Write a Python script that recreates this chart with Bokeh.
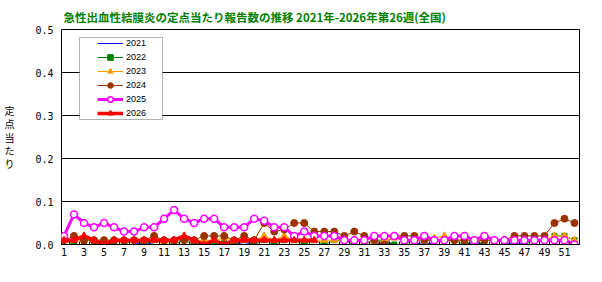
from bokeh.plotting import figure
from bokeh.models import (Range1d, FixedTicker, NumeralTickFormatter, Legend,
                          LegendItem, Title, BoxAnnotation)
from bokeh.embed import file_html
from bokeh.resources import INLINE

# ---------------- data ----------------
weeks = list(range(1, 53))
weeks_2026 = list(range(1, 27))

v2021 = [0, 0, 0, 0, 0, 0, 0, 0, 0.005, 0, 0, 0, 0, 0, 0, 0, 0, 0, 0.005, 0,
         0, 0, 0, 0, 0, 0, 0, 0, 0, 0, 0, 0, 0.005, 0, 0, 0, 0.005, 0, 0, 0,
         0, 0.005, 0, 0, 0, 0.005, 0, 0, 0, 0, 0, 0]
v2022 = [0.01, 0, 0, 0, 0.01, 0, 0, 0.01, 0, 0.01, 0.01, 0, 0.01, 0, 0.01, 0,
         0.01, 0, 0.01, 0, 0.01, 0, 0.01, 0.01, 0, 0.01, 0, 0.01, 0.01, 0,
         0, 0.01, 0.01, 0, 0, 0.01, 0.01, 0.01, 0.01, 0.01, 0, 0.01, 0, 0,
         0, 0, 0, 0.01, 0.01, 0.02, 0.02, 0.01]
v2023 = [0.01, 0.01, 0.01, 0.01, 0.01, 0.01, 0.01, 0.01, 0.01, 0.01, 0, 0.01,
         0.015, 0.01, 0.01, 0.01, 0.015, 0.01, 0.01, 0.01, 0.02, 0.01, 0.02,
         0.01, 0.01, 0.01, 0.01, 0.01, 0.01, 0.01, 0.01, 0, 0.01, 0.015,
         0.01, 0.01, 0.01, 0.015, 0.02, 0.01, 0.01, 0.01, 0.01, 0.01, 0.01,
         0.01, 0.01, 0.01, 0.01, 0.02, 0.02, 0.01]
v2024 = [0.01, 0.02, 0.01, 0.01, 0.01, 0.01, 0.01, 0.01, 0.01, 0.02, 0.01,
         0.01, 0.01, 0.01, 0.02, 0.02, 0.02, 0.01, 0.02, 0.01, 0.05, 0.03,
         0.035, 0.05, 0.05, 0.03, 0.03, 0.03, 0.02, 0.03, 0.02, 0.01, 0,
         0.02, 0.02, 0.02, 0.01, 0.01, 0.01, 0.01, 0.01, 0.01, 0.01, 0.01,
         0.01, 0.02, 0.02, 0.02, 0.02, 0.05, 0.06, 0.05]
v2025 = [0.02, 0.07, 0.05, 0.04, 0.05, 0.04, 0.03, 0.03, 0.04, 0.04, 0.06,
         0.08, 0.06, 0.05, 0.06, 0.06, 0.04, 0.04, 0.04, 0.06, 0.055, 0.04,
         0.04, 0.02, 0.03, 0.02, 0.02, 0.02, 0.01, 0.01, 0.01, 0.02, 0.02,
         0.02, 0.01, 0.01, 0.02, 0.01, 0.01, 0.02, 0.02, 0.01, 0.02, 0.01,
         0.01, 0.01, 0.01, 0.01, 0.01, 0.01, 0.01, 0]
v2026 = [0.01, 0.01, 0.02, 0.01, 0, 0.01, 0.01, 0.01, 0.01, 0.01, 0.01, 0.01,
         0.02, 0.01, 0, 0.01, 0, 0.01, 0.01, 0.01, 0.01, 0.01, 0.01, 0.01,
         0.01, 0.01]

series_names = ["2021", "2022", "2023", "2024", "2025", "2026"]
title_text = "急性出血性結膜炎の定点当たり報告数の推移 2021年-2026年第26週(全国)"
ylabel_text = "定\n点\n当\nた\nり"
x_tick_values = list(range(1, 53, 2))
y_tick_values = [0, 0.1, 0.2, 0.3, 0.4, 0.5]

# ---------------- figure ----------------
p = figure(width=602, height=282, title=None,
           x_range=Range1d(0.75, 52.5), y_range=Range1d(0, 0.5),
           output_backend="svg", toolbar_location=None,
           min_border_left=61, min_border_right=23,
           min_border_top=29, min_border_bottom=38)
p.background_fill_color = "white"
p.border_fill_color = "white"
p.outline_line_color = "black"
p.outline_line_width = 1

p.xgrid.visible = False
p.ygrid.ticker = FixedTicker(ticks=y_tick_values)
p.ygrid.grid_line_color = "black"
p.ygrid.grid_line_width = 1

xa = p.xaxis[0]
xa.ticker = FixedTicker(ticks=x_tick_values,
                        minor_ticks=[w + 0.5 for w in weeks[:-1]])
xa.major_tick_line_color = None
xa.major_tick_in = 0
xa.major_tick_out = 0
xa.minor_tick_in = 3
xa.minor_tick_out = 0
xa.minor_tick_line_color = "black"
xa.axis_line_color = "black"
xa.major_label_standoff = 3
xa.major_label_text_font = "DejaVu Sans Mono"
xa.major_label_text_font_size = "10px"
xa.major_label_text_color = "black"

ya = p.yaxis[0]
ya.ticker = FixedTicker(ticks=y_tick_values)
ya.formatter = NumeralTickFormatter(format="0.0")
ya.major_tick_line_color = None
ya.major_tick_in = 0
ya.major_tick_out = 0
ya.minor_tick_line_color = None
ya.minor_tick_in = 0
ya.minor_tick_out = 0
ya.axis_line_color = None
ya.major_label_standoff = 8
ya.major_label_text_font = "DejaVu Sans Mono"
ya.major_label_text_font_size = "10px"
ya.major_label_text_color = "black"
ya.axis_label = ylabel_text
ya.axis_label_orientation = "horizontal"
ya.axis_label_standoff = 18
ya.axis_label_text_font = "Noto Sans CJK JP"
ya.axis_label_text_font_size = "10px"
ya.axis_label_text_font_style = "normal"
ya.axis_label_text_color = "black"
ya.axis_label_text_line_height = 0.875

# ---------------- series ----------------
r21 = p.line(weeks, v2021, line_color="#0000ff", line_width=1)

r22l = p.line(weeks, v2022, line_color="#008000", line_width=1)
r22m = p.scatter(weeks, v2022, marker="square", size=5,
                 fill_color="#008000", line_color="#008000")

r23l = p.line(weeks, v2023, line_color="#ff9900", line_width=1)
r23m = p.scatter(weeks, v2023, marker="triangle", size=7,
                 fill_color="#ff9900", line_color="#ff9900")

r24l = p.line(weeks, v2024, line_color="#993300", line_width=1)
r24m = p.scatter(weeks, v2024, marker="circle", size=7,
                 fill_color="#993300", line_color="#993300")

r25l = p.line(weeks, v2025, line_color="#ff00ff", line_width=3)
r25m = p.scatter(weeks, v2025, marker="circle", size=7,
                 fill_color="white", line_color="#ff00ff", line_width=1.5)

r26l = p.line(weeks_2026, v2026, line_color="#ff0000", line_width=3.5)
r26m = p.scatter(weeks_2026, v2026, marker="triangle", size=7,
                 fill_color="#ff0000", line_color="#ff0000")

# ---------------- legend ----------------
box = BoxAnnotation(left=79, right=162, top=37, bottom=119,
                    left_units="canvas", right_units="canvas",
                    top_units="canvas", bottom_units="canvas",
                    fill_color="white", fill_alpha=1,
                    line_color="black", line_width=1)
p.add_layout(box)

legend = Legend(items=[
    LegendItem(label=series_names[0], renderers=[r21]),
    LegendItem(label=series_names[1], renderers=[r22l, r22m]),
    LegendItem(label=series_names[2], renderers=[r23l, r23m]),
    LegendItem(label=series_names[3], renderers=[r24l, r24m]),
    LegendItem(label=series_names[4], renderers=[r25l, r25m]),
    LegendItem(label=series_names[5], renderers=[r26l, r26m]),
], location=(36, 124), padding=0, margin=0, spacing=0,
   glyph_width=26, glyph_height=14, label_height=14, label_standoff=3,
   label_text_font="Liberation Sans", label_text_font_size="9px",
   label_text_color="black",
   border_line_color=None, background_fill_alpha=0)
p.add_layout(legend)

# ---------------- title ----------------
t = Title(text=title_text, align="left", offset=2, standoff=10,
          text_font="Noto Sans CJK JP", text_font_style="bold",
          text_font_size="11.5px", text_color="#008000")
p.add_layout(t, "above")

open("out.html", "w").write(file_html(p, INLINE))
